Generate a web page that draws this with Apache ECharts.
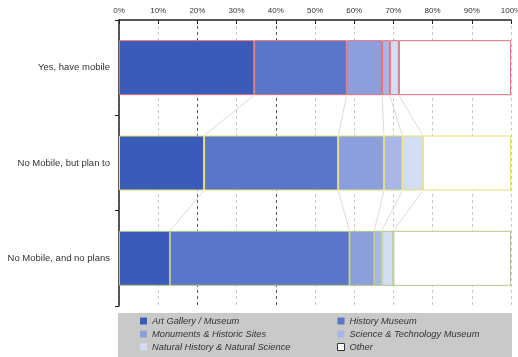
<!DOCTYPE html>
<html>
<head>
<meta charset="utf-8">
<script src="https://cdn.jsdelivr.net/npm/echarts@6/dist/echarts.min.js"></script>
<style>
html,body{margin:0;padding:0;background:#fff;}
#chart{width:518px;height:357px;}
</style>
</head>
<body>
<div id="chart"></div>
<script>
// Visitor groups (rows, top to bottom)
const categories = ['Yes, have mobile', 'No Mobile, but plan to', 'No Mobile, and no plans'];
// Share of visits by venue type, percent per row
const artGallery   = [34.5, 21.7, 13.0];
const historyMus   = [23.6, 34.2, 45.8];
const monuments    = [9.0, 11.7, 6.3];
const scienceTech  = [2.0, 4.7, 1.9];
const naturalHist  = [2.3, 5.2, 3.0];
const other        = [28.6, 22.5, 30.0];
const seriesNames = ['Art Gallery / Museum', 'History Museum', 'Monuments & Historic Sites',
  'Science & Technology Museum', 'Natural History & Natural Science', 'Other'];
const tickLabels = ['0%','10%','20%','30%','40%','50%','60%','70%','80%','90%','100%'];

const seriesValues = [artGallery, historyMus, monuments, scienceTech, naturalHist, other];
const fills = ['#3a5cb8', '#5a76c8', '#8a9fdc', '#a8b7e8', '#d2def5', '#ffffff'];
const rowBorders = ['#e0707a', '#e6df72', '#b2c787'];
const BAR_W = 55;
const FONT = '"Liberation Sans", Arial, sans-serif';

// cumulative boundaries per row
const cumul = categories.map((c, r) => {
  let s = 0; const out = [];
  seriesValues.forEach(v => { s += v[r]; out.push(s); });
  return out;
});
// connector segments between adjacent rows at each segment boundary
const connectors = [];
for (let r = 0; r < categories.length - 1; r++) {
  for (let k = 0; k < seriesValues.length - 1; k++) {
    connectors.push([cumul[r][k], r, cumul[r + 1][k], r + 1]);
  }
}

const chart = echarts.init(document.getElementById('chart'), null, {renderer: 'canvas'});

const gridColors = tickLabels.map((t, i) => (i === 2 || i === 4) ? '#333' : '#bbb');

const barSeries = seriesNames.map((name, si) => ({
  name: name,
  type: 'bar',
  stack: 'total',
  barWidth: BAR_W,
  z: 3,
  itemStyle: {color: fills[si]},
  data: seriesValues[si].map((v, r) => ({
    value: v,
    itemStyle: {color: fills[si], borderColor: rowBorders[r], borderWidth: 1}
  }))
}));

const connectorSeries = {
  type: 'custom',
  silent: true,
  z: 2,
  renderItem: function (params, api) {
    const a = api.coord([api.value(0), api.value(1)]);
    const b = api.coord([api.value(2), api.value(3)]);
    return {
      type: 'line',
      shape: {x1: a[0], y1: a[1] + BAR_W / 2, x2: b[0], y2: b[1] - BAR_W / 2},
      style: {stroke: '#d0d0d0', lineWidth: 0.8}
    };
  },
  encode: {x: [0, 2], y: [1, 3]},
  data: connectors
};

const legendText = {fontFamily: FONT, fontSize: 9.3, fontStyle: 'italic', color: '#333', lineHeight: 12};
function legendItem(name) {
  const i = seriesNames.indexOf(name);
  return {
    name: name,
    itemStyle: i === 5 ? {color: '#fff', borderColor: '#333', borderWidth: 1}
                       : {color: fills[i], borderWidth: 0}
  };
}
const legendBase = {
  orient: 'vertical', top: 315, padding: 0, height: 43, itemWidth: 7, itemHeight: 7, itemGap: 1,
  textStyle: legendText, icon: 'rect'
};

chart.setOption({
  animation: false,
  backgroundColor: '#fff',
  graphic: [{
    type: 'rect', left: 118, top: 313, z: -1,
    shape: {width: 394, height: 44},
    style: {fill: '#c9c9c9'}
  }],
  legend: [
    Object.assign({}, legendBase, {
      left: 140,
      data: ['Art Gallery / Museum', 'Monuments & Historic Sites', 'Natural History & Natural Science'].map(legendItem)
    }),
    Object.assign({}, legendBase, {
      left: 337,
      data: ['History Museum', 'Science & Technology Museum', 'Other'].map(legendItem)
    })
  ],
  grid: {left: 119, right: 7, top: 20, bottom: 51, containLabel: false, outerBoundsMode: 'none'},
  xAxis: {
    type: 'value', position: 'top', min: 0, max: 100, interval: 10,
    axisLine: {show: true, lineStyle: {color: '#222', width: 1.5}},
    axisTick: {show: true, inside: true, length: 4, lineStyle: {color: '#222'}},
    axisLabel: {
      fontFamily: FONT, fontSize: 8, color: '#333', margin: 5,
      formatter: v => tickLabels[Math.round(v / 10)]
    },
    splitLine: {show: true, lineStyle: {type: [3, 3], width: 0.8, color: gridColors}}
  },
  yAxis: {
    type: 'category', inverse: true, data: categories,
    axisLine: {show: true, lineStyle: {color: '#222', width: 1.5}},
    axisTick: {show: true, length: 4, lineStyle: {color: '#222'}},
    axisLabel: {fontFamily: FONT, fontSize: 9.5, color: '#333', margin: 9}
  },
  series: barSeries.concat([connectorSeries])
});
</script>
</body>
</html>
